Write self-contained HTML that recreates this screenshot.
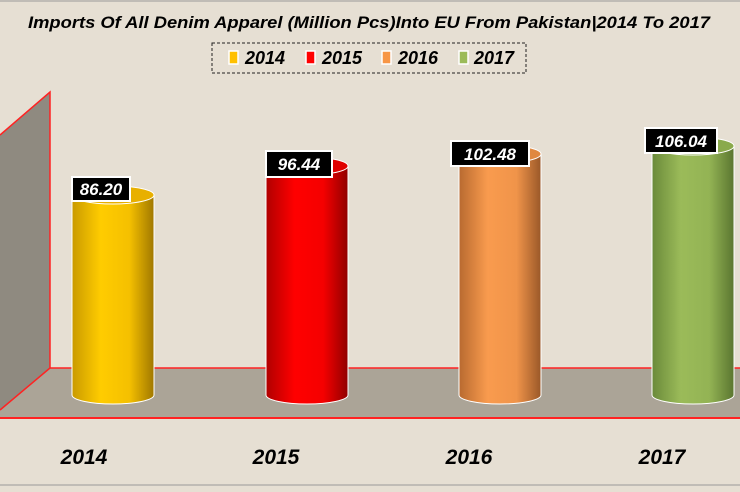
<!DOCTYPE html>
<html><head><style>body{margin:0;background:#e6dfd3}</style></head><body>
<svg width="740" height="487" viewBox="0 0 740 487" xmlns="http://www.w3.org/2000/svg" font-family="Liberation Sans, sans-serif">
<defs>
<linearGradient id="gy" x1="0" x2="1"><stop offset="0" stop-color="#c99a00"/><stop offset=".35" stop-color="#ffcc00"/><stop offset=".7" stop-color="#f5c000"/><stop offset="1" stop-color="#a07800"/></linearGradient>
<linearGradient id="gr" x1="0" x2="1"><stop offset="0" stop-color="#b00000"/><stop offset=".35" stop-color="#ff0000"/><stop offset=".7" stop-color="#f50000"/><stop offset="1" stop-color="#900000"/></linearGradient>
<linearGradient id="go" x1="0" x2="1"><stop offset="0" stop-color="#b86a30"/><stop offset=".35" stop-color="#f99b4e"/><stop offset=".7" stop-color="#f0944a"/><stop offset="1" stop-color="#9a5828"/></linearGradient>
<linearGradient id="gg" x1="0" x2="1"><stop offset="0" stop-color="#6a8a3a"/><stop offset=".35" stop-color="#9bbb59"/><stop offset=".7" stop-color="#93b354"/><stop offset="1" stop-color="#5a7630"/></linearGradient>
</defs>
<rect width="740" height="487" fill="#e6dfd3"/>
<line x1="0" y1="1" x2="740" y2="1" stroke="#999"/>
<line x1="0" y1="485" x2="740" y2="485" stroke="#999"/>
<text x="369" y="28" text-anchor="middle" font-size="17" font-weight="bold" font-style="italic" textLength="682" lengthAdjust="spacingAndGlyphs">Imports Of All Denim Apparel (Million Pcs)Into EU From Pakistan|2014 To 2017</text>
<rect x="212" y="43" width="314" height="30" fill="none" stroke="#222" stroke-dasharray="3,2"/>
<g font-size="18" font-weight="bold" font-style="italic">
<rect x="229" y="51" width="9" height="13" fill="#ffc000" stroke="#fff" stroke-width="1.5"/><text x="245" y="64">2014</text>
<rect x="306" y="51" width="9" height="13" fill="#ff0000" stroke="#fff" stroke-width="1.5"/><text x="322" y="64">2015</text>
<rect x="382" y="51" width="9" height="13" fill="#f79646" stroke="#fff" stroke-width="1.5"/><text x="398" y="64">2016</text>
<rect x="459" y="51" width="9" height="13" fill="#9bbb59" stroke="#fff" stroke-width="1.5"/><text x="474" y="64">2017</text>
</g>
<polygon points="0,135 50,92 50,368 0,410" fill="#8f8a80"/>
<polygon points="50,368 740,368 740,418 0,418 0,410" fill="#aba497"/>
<polyline points="0,135 50,92 50,368 0,410" fill="none" stroke="#f22" stroke-width="1.5"/>
<line x1="50" y1="368" x2="740" y2="368" stroke="#f22" stroke-width="1.5"/>
<line x1="0" y1="418" x2="740" y2="418" stroke="#f22" stroke-width="2"/>
<g stroke="#fff" stroke-width="1">
<path d="M72,195 L72,395 A41,9 0 0 0 154,395 L154,195 Z" fill="url(#gy)"/><ellipse cx="113" cy="195" rx="41" ry="9" fill="#e8b000"/>
<path d="M266,166 L266,395 A41,9 0 0 0 348,395 L348,166 Z" fill="url(#gr)"/><ellipse cx="307" cy="166" rx="41" ry="9" fill="#e00000"/>
<path d="M459,154 L459,395 A41,9 0 0 0 541,395 L541,154 Z" fill="url(#go)"/><ellipse cx="500" cy="154" rx="41" ry="9" fill="#e08840"/>
<path d="M652,146 L652,395 A41,9 0 0 0 734,395 L734,146 Z" fill="url(#gg)"/><ellipse cx="693" cy="146" rx="41" ry="9" fill="#8aaa4c"/>
</g>
<g font-size="17" font-weight="bold" font-style="italic" fill="#fff" text-anchor="middle">
<rect x="72" y="177" width="58" height="24" fill="#000" stroke="#fff" stroke-width="2"/><text x="101" y="195">86.20</text>
<rect x="266" y="151" width="66" height="26" fill="#000" stroke="#fff" stroke-width="2"/><text x="299" y="170">96.44</text>
<rect x="451" y="141" width="78" height="25" fill="#000" stroke="#fff" stroke-width="2"/><text x="490" y="160">102.48</text>
<rect x="645" y="128" width="72" height="25" fill="#000" stroke="#fff" stroke-width="2"/><text x="681" y="147">106.04</text>
</g>
<g font-size="21" font-weight="bold" font-style="italic" text-anchor="middle">
<text x="84" y="464">2014</text><text x="276" y="464">2015</text><text x="469" y="464">2016</text><text x="662" y="464">2017</text>
</g>
</svg>
</body></html>
